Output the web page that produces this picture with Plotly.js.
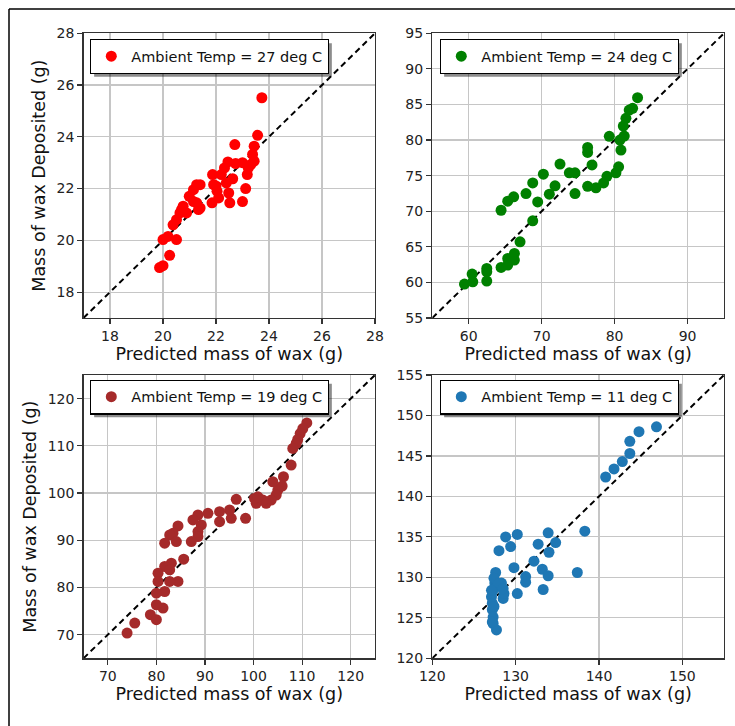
<!DOCTYPE html>
<html>
<head>
<meta charset="utf-8">
<script src="https://cdn.plot.ly/plotly-3.0.1.min.js"></script>
<style>
html,body{margin:0;padding:0;background:#fff;}
#chart{width:735px;height:726px;}
</style>
</head>
<body>
<div id="chart"></div>
<script>
// ---- Data: Ambient Temp = 27 deg C ----
const x27 = [23.73, 23.57, 23.44, 22.71, 23.38, 23.31, 23.44, 22.45, 22.74, 22.32, 23.0, 23.22, 23.18, 23.12, 23.0, 22.52, 22.48, 22.39, 22.2, 21.87, 21.91, 22.04, 21.85, 22.1, 21.4, 21.27, 21.15, 20.99, 21.4, 21.27, 21.15, 21.34, 20.76, 20.7, 20.64, 20.89, 20.51, 20.38, 20.0, 20.19, 20.51, 20.25, 20.0, 19.87, 22.63, 22.0];
const y27 = [25.51, 24.06, 23.64, 23.7, 23.32, 22.93, 23.06, 23.03, 22.97, 22.8, 23.0, 22.8, 22.54, 22.0, 21.5, 21.45, 21.83, 22.22, 22.54, 22.54, 22.15, 21.9, 21.45, 21.64, 22.15, 22.15, 21.96, 21.7, 21.25, 21.45, 21.5, 21.19, 21.32, 21.19, 21.06, 21.06, 20.8, 20.6, 20.03, 20.15, 20.03, 19.42, 19.02, 18.95, 22.38, 22.1];

// ---- Data: Ambient Temp = 24 deg C ----
const x24 = [59.41, 60.46, 60.55, 62.47, 62.47, 62.47, 64.43, 65.34, 65.34, 66.26, 66.26, 67.03, 68.77, 64.43, 65.34, 66.16, 67.85, 68.77, 69.45, 70.23, 71.05, 71.83, 72.51, 73.79, 74.57, 74.57, 76.3, 76.3, 76.3, 76.9, 77.44, 78.49, 78.95, 79.27, 80.18, 80.55, 80.87, 80.73, 81.32, 81.19, 81.55, 82.0, 82.47, 83.15];
const y24 = [59.77, 61.17, 60.09, 61.97, 61.5, 60.19, 62.1, 62.43, 63.37, 64.07, 63.14, 65.7, 68.66, 70.14, 71.41, 72.02, 72.48, 73.98, 71.31, 75.2, 72.39, 73.57, 76.62, 75.4, 75.4, 72.48, 78.97, 78.27, 73.5, 76.5, 73.3, 73.98, 74.91, 80.52, 75.4, 76.24, 78.59, 80.0, 80.56, 81.97, 83.05, 84.22, 84.46, 85.96];

// ---- Data: Ambient Temp = 19 deg C ----
const x19 = [110.96, 110.14, 109.59, 109.1, 108.77, 108.08, 107.74, 106.16, 105.89, 105.0, 103.97, 104.66, 103.63, 102.6, 101.92, 100.55, 100.2, 100.9, 96.44, 98.36, 95.41, 95.07, 93.01, 93.01, 90.62, 89.25, 88.56, 87.53, 88.56, 88.56, 87.19, 85.62, 84.45, 83.42, 82.74, 81.71, 84.11, 83.08, 81.71, 82.74, 84.45, 80.34, 80.34, 82.74, 81.71, 80.0, 81.37, 80.0, 78.77, 80.0, 75.55, 73.97];
const y19 = [114.86, 113.66, 112.6, 111.34, 110.49, 109.44, 105.92, 103.45, 101.48, 100.63, 102.39, 99.58, 98.52, 97.82, 98.52, 97.82, 98.87, 99.2, 98.66, 94.65, 94.65, 96.41, 96.06, 93.94, 95.7, 93.24, 95.35, 94.3, 91.83, 90.77, 89.72, 85.99, 93.03, 91.48, 91.13, 89.37, 89.72, 85.14, 84.44, 83.73, 81.27, 83.03, 81.27, 81.27, 79.15, 78.8, 75.63, 76.34, 74.23, 73.17, 72.46, 70.35];

// ---- Data: Ambient Temp = 11 deg C ----
const x11 = [146.9, 144.8, 143.7, 143.7, 142.8, 141.8, 140.8, 138.3, 133.9, 130.2, 128.8, 129.4, 128.0, 132.7, 134.8, 134.0, 132.2, 129.8, 133.2, 133.9, 137.4, 131.2, 131.2, 130.2, 133.3, 127.6, 128.5, 127.5, 127.3, 127.1, 127.2, 127.2, 127.3, 127.3, 127.7, 127.2, 128.3, 128.0, 127.7, 128.6, 127.4, 127.9, 128.5, 127.1, 127.4];
const y11 = [148.6, 148.0, 146.8, 145.3, 144.3, 143.4, 142.4, 135.7, 135.5, 135.3, 135.0, 133.8, 133.3, 134.1, 134.3, 133.1, 132.0, 131.2, 131.0, 130.2, 130.6, 130.1, 129.4, 128.0, 128.5, 130.6, 127.4, 129.3, 128.4, 127.6, 126.8, 126.0, 125.1, 124.3, 123.5, 124.5, 129.3, 128.9, 129.0, 128.0, 129.9, 129.2, 128.6, 128.4, 126.4];

// axis ranges (also used for y = x reference lines)
const range27 = [17, 28];
const range24 = [55, 95];
const range19 = [65, 125];
const range11 = [120, 155];

const labels = ["Ambient Temp = 27 deg C", "Ambient Temp = 24 deg C", "Ambient Temp = 19 deg C", "Ambient Temp = 11 deg C"];
const colors = ["#ff0000", "#008000", "#a52a2a", "#1f77b4"];

const W = 735, H = 726;
const px = v => v / W;
const py = v => 1 - v / H;

const FONT = "DejaVu Sans, Liberation Sans, sans-serif";

function scatter(x, y, i, xa, ya, leg) {
  return {
    type: "scatter", mode: "markers", x: x, y: y, name: labels[i],
    xaxis: xa, yaxis: ya, legend: leg,
    marker: {color: colors[i], size: 11, line: {width: 0}},
    hoverinfo: "skip"
  };
}
function diag(r, xa, ya) {
  return {
    type: "scatter", mode: "lines", x: r, y: r, xaxis: xa, yaxis: ya,
    showlegend: false, hoverinfo: "skip",
    line: {color: "#000", width: 2, dash: "6px,4px"}
  };
}

const traces = [
  diag(range27, "x", "y"), scatter(x27, y27, 0, "x", "y", "legend"),
  diag(range24, "x2", "y2"), scatter(x24, y24, 1, "x2", "y2", "legend2"),
  diag(range19, "x3", "y3"), scatter(x19, y19, 2, "x3", "y3", "legend3"),
  diag(range11, "x4", "y4"), scatter(x11, y11, 3, "x4", "y4", "legend4")
];

function axis(letter, domain, range, dtick, tick0, title, anchor) {
  const a = {
    domain: domain, range: range, dtick: dtick, tick0: tick0,
    anchor: anchor,
    showgrid: true, gridcolor: "#c6c6c6", gridwidth: 1.2,
    zeroline: false,
    showline: true, mirror: true, linecolor: "#333", linewidth: 1.3,
    ticks: "outside", ticklen: 5, tickwidth: 1.2, tickcolor: "#333",
    tickfont: {family: FONT, size: 14, color: "#222"},
    fixedrange: true
  };
  if (title) a.title = {text: title, standoff: letter === "x" ? 3 : 6, font: {family: FONT, size: 17.5, color: "#111"}};
  return a;
}

const XT = "Predicted mass of wax (g)";
const YT = "Mass of wax Deposited (g)";

const dxL = [px(83.5), px(375)];
const dxR = [px(432.3), px(724)];
const dyT = [py(318), py(33.3)];
const dyB = [py(658.3), py(375)];

function legend(xpix, ypix) {
  return {
    x: px(xpix), y: py(ypix), xanchor: "left", yanchor: "top",
    bgcolor: "#fff", bordercolor: "#000", borderwidth: 1.3,
    font: {family: FONT, size: 14.5, color: "#111"},
    itemclick: false, itemdoubleclick: false
  };
}

const borderShapes = [
  {type: "line", xref: "paper", yref: "paper", x0: px(9), x1: 1, y0: py(9), y1: py(9), line: {color: "#000", width: 1.5}},
  {type: "line", xref: "paper", yref: "paper", x0: px(9), x1: px(9), y0: py(9), y1: 0, line: {color: "#000", width: 1.5}}
];

const layout = {
  width: W, height: H,
  margin: {l: 0, r: 0, t: 0, b: 0},
  paper_bgcolor: "#fff", plot_bgcolor: "#fff",
  showlegend: true,
  xaxis: axis("x", dxL, range27, 2, 18, XT, "y"),
  yaxis: axis("y", dyT, range27, 2, 18, YT, "x"),
  xaxis2: axis("x", dxR, range24, 10, 60, XT, "y2"),
  yaxis2: axis("y", dyT, range24, 5, 55, null, "x2"),
  xaxis3: axis("x", dxL, range19, 10, 70, XT, "y3"),
  yaxis3: axis("y", dyB, range19, 10, 70, YT, "x3"),
  xaxis4: axis("x", dxR, range11, 10, 120, XT, "y4"),
  yaxis4: axis("y", dyB, range11, 5, 120, null, "x4"),
  legend: legend(90, 39),
  legend2: legend(440, 39),
  legend3: legend(90, 379.5),
  legend4: legend(440, 379.5),
  shapes: borderShapes.slice()
};

const gd = document.getElementById("chart");
Plotly.newPlot(gd, traces, layout, {displayModeBar: false, staticPlot: true}).then(() => {
  // drop shadows behind each legend box, measured from the rendered legends
  const root = gd.getBoundingClientRect();
  const shadows = [];
  gd.querySelectorAll("g.infolayer > g").forEach(g => {
    const cls = g.getAttribute("class") || "";
    if (!/^legend\d*$/.test(cls)) return;
    const bg = g.querySelector("rect.bg");
    if (!bg) return;
    const b = bg.getBoundingClientRect();
    const off = 3.5;
    shadows.push({
      type: "rect", xref: "paper", yref: "paper", layer: "above",
      x0: px(b.left - root.left + off), x1: px(b.right - root.left + off),
      y0: py(b.top - root.top + off), y1: py(b.bottom - root.top + off),
      fillcolor: "rgba(0,0,0,0.45)", line: {width: 0}
    });
  });
  return Plotly.relayout(gd, {shapes: borderShapes.concat(shadows)});
});
</script>
</body>
</html>
